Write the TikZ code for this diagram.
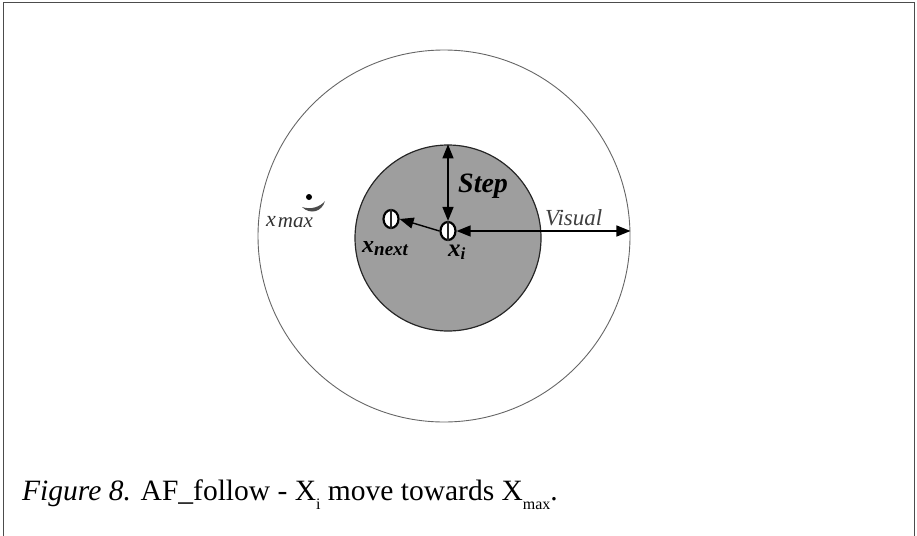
\documentclass[tikz,border=0pt]{standalone}
\usepackage{fontspec}
\setmainfont{Liberation Serif}
\usetikzlibrary{arrows.meta,shapes.geometric}
\begin{document}
\begin{tikzpicture}[x=1pt,y=-1pt,
  agent/.style={ellipse,draw=black,fill=white,line width=2.2pt,minimum width=15pt,minimum height=18pt,inner sep=0pt},
  dimarrow/.style={line width=1.4pt,{Triangle[length=14pt,width=11pt]}-{Triangle[length=14pt,width=11pt]}},
  movearrow/.style={line width=1.4pt,-{Triangle[length=14pt,width=11pt]}},
  lbl/.style={inner sep=0pt,anchor=base west}]
\useasboundingbox (0,0) rectangle (917,535);
% frame
\draw[black!70,line width=1pt] (3,536) -- (3,3) -- (914,3) -- (914,536);
% circles
\node[circle,draw=black!60,line width=0.9pt,minimum size=372pt,inner sep=0pt] (outer) at (444,236) {};
\node[circle,draw=black!85,fill=black!38,line width=1.2pt,minimum size=186pt,inner sep=0pt] (inner) at (448,238) {};
% agents
\node[agent] (xi) at (448,231) {};
\node[agent] (xnext) at (391,219) {};
\draw[black!85,line width=1.5pt] (xi.north) -- (xi.south);
\draw[black!85,line width=1.5pt] (xnext.north) -- (xnext.south);
% Xmax food
\node[circle,fill=black,minimum size=6pt,inner sep=0pt] (xmax) at (309,197) {};
\fill[black!70] (302,207) .. controls (310,215) and (322,212) .. (325,201)
  .. controls (320,207) and (311,210) .. (302,207) -- cycle;
% arrows
\draw[dimarrow] (inner.north) -- (xi.north);
\draw[dimarrow] (xi.east) -- (xi.east -| outer.east);
\draw[movearrow] (xi.west) -- (xnext.east);
% labels
\node[lbl] (steplbl) at (458,192) {\fontsize{28}{28}\selectfont\bfseries\itshape Step};
\node[lbl,text=black!75] (visuallbl) at (545,225) {\fontsize{23}{23}\selectfont\itshape Visual};
\node[lbl,text=black!80] (xmaxlbl) at (266,226) {\fontsize{22}{22}\selectfont\itshape x\hspace{2pt}\raisebox{-1pt}{\fontsize{21}{21}\selectfont max}};
\node[lbl] (xnextlbl) at (362,252) {\fontsize{24}{24}\selectfont\bfseries\itshape x\raisebox{-3pt}{\fontsize{19}{19}\selectfont next}};
\node[lbl] (xilbl) at (448,256) {\fontsize{25}{25}\selectfont\bfseries\itshape x\raisebox{-3pt}{\fontsize{17}{17}\selectfont i}};
% caption
\node[lbl] (caption) at (22,500) {\fontsize{29.5}{30}\selectfont\textit{Figure 8.} AF\_follow - X\raisebox{-9pt}{\fontsize{16}{16}\selectfont i} move towards X\raisebox{-9pt}{\fontsize{16}{16}\selectfont max}.};
\end{tikzpicture}
\end{document}
